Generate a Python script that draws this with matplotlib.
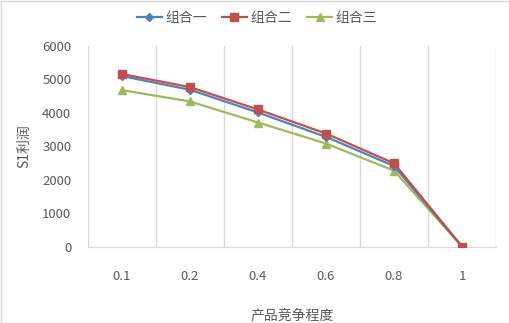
import matplotlib
matplotlib.use("Agg")
import matplotlib.pyplot as plt
from matplotlib.patches import Rectangle

plt.rcParams['font.family'] = ['Noto Sans CJK SC', 'DejaVu Sans']

categories = ['0.1', '0.2', '0.4', '0.6', '0.8', '1']
group1 = [5100, 4690, 4010, 3280, 2410, 0]
group2 = [5160, 4770, 4100, 3380, 2490, 0]
group3 = [4680, 4340, 3710, 3080, 2270, 0]
series_names = ['组合一', '组合二', '组合三']
yticks = [0, 1000, 2000, 3000, 4000, 5000, 6000]

fig = plt.figure(figsize=(5.10, 3.23), dpi=100)
ax = fig.add_axes([88/510, 1-246.5/323, 408/510, 200.5/323])

x = list(range(len(categories)))
ax.plot(x, group1, color='#4F81BD', lw=1.6, marker='D', ms=4.5, label=series_names[0], zorder=3)
ax.plot(x, group2, color='#C0504D', lw=1.6, marker='s', ms=6, label=series_names[1], zorder=4)
ax.plot(x, group3, color='#9BBB59', lw=1.6, marker='^', ms=6, label=series_names[2], zorder=2)

ax.set_xlim(-0.5, len(categories)-0.5)
ax.set_ylim(0, 6000)
ax.set_xticks(x)
ax.set_xticklabels(categories)
ax.set_yticks(yticks)
ax.set_yticklabels([str(v) for v in yticks])
for b in [i - 0.5 for i in range(len(categories)+1)]:
    ax.axvline(b, color='#D9D9D9', lw=1, zorder=1)
for s in ['left', 'right', 'top']:
    ax.spines[s].set_visible(False)
ax.spines['bottom'].set_color('#D9D9D9')
ax.tick_params(axis='both', length=0, colors='#595959', labelsize=9.5)
ax.tick_params(axis='x', pad=17)
ax.tick_params(axis='y', pad=12)

ax.set_xlabel('产品竞争程度', fontsize=10, color='#595959', labelpad=18)
ax.set_ylabel('S1利润', fontsize=10, color='#595959', labelpad=8)

leg = fig.legend(loc='center', bbox_to_anchor=(257/510, 1-18/323), ncol=3, frameon=False,
                 fontsize=10, handlelength=1.8, columnspacing=1.1, handletextpad=0.25,
                 markerscale=0.85)
for t in leg.get_texts():
    t.set_color('#595959')

fig.patches.append(Rectangle((0.5/510, 0.5/323), 1-1/510, 1-1/323, transform=fig.transFigure,
                             fill=False, edgecolor='#D9D9D9', lw=1))
fig.savefig('out.png', dpi=100)
